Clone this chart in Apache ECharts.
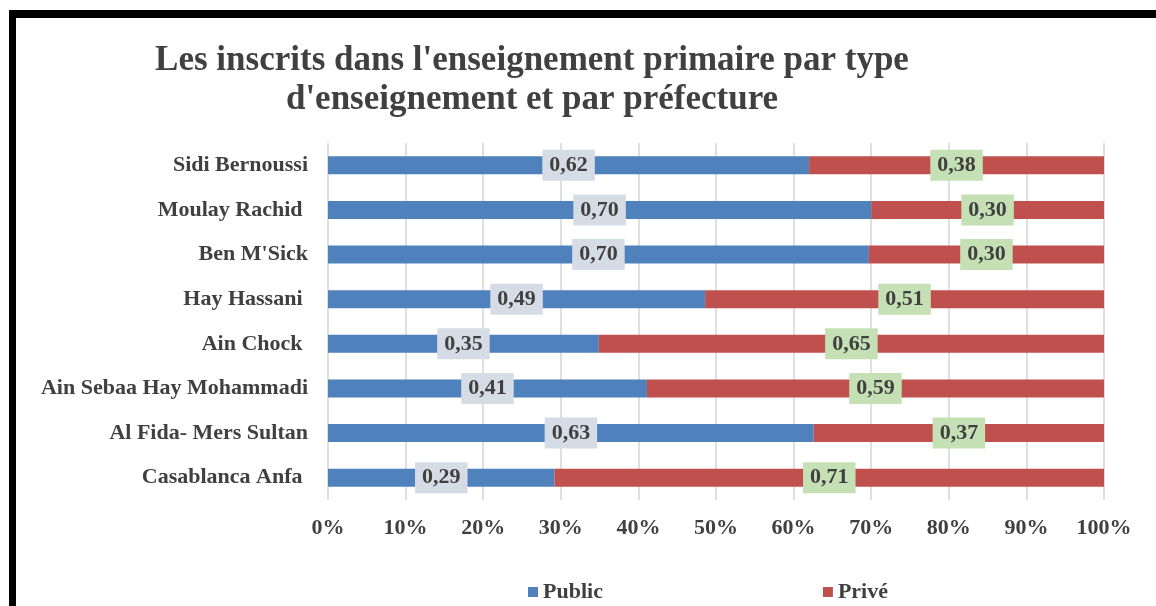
<!DOCTYPE html>
<html>
<head>
<meta charset="utf-8">
<script src="https://cdn.jsdelivr.net/npm/echarts@6/dist/echarts.min.js"></script>
<style>
  html, body { margin: 0; padding: 0; background: #fff; }
  #main { width: 1156px; height: 606px; }
</style>
</head>
<body>
<div id="main"></div>
<script>
var categories = ['Sidi Bernoussi', 'Moulay Rachid ', "Ben M'Sick", 'Hay Hassani ', 'Ain Chock ', 'Ain Sebaa Hay Mohammadi', 'Al Fida- Mers Sultan', 'Casablanca Anfa '];
var publicValues = [0.62, 0.70, 0.697, 0.486, 0.349, 0.411, 0.626, 0.292];
var priveValues = [0.38, 0.30, 0.303, 0.514, 0.651, 0.589, 0.374, 0.708];
var seriesNames = ['Public', 'Privé'];

var font = 'Liberation Serif';
var textColor = '#404040';

function fmt(p) {
    return p.value.toFixed(2).replace('.', ',');
}

var chart = echarts.init(document.getElementById('main'));
var option = {
    animation: false,
    title: {
        text: "Les inscrits dans l'enseignement primaire par type\nd'enseignement et par préfecture",
        left: 527,
        top: 36,
        textAlign: 'center',
        textStyle: {
            fontFamily: font,
            fontWeight: 'bold',
            fontSize: 35,
            lineHeight: 39,
            color: textColor
        }
    },
    graphic: [
        { type: 'rect', shape: { x: 9, y: 10, width: 1147, height: 8 }, style: { fill: '#000' } },
        { type: 'rect', shape: { x: 9, y: 10, width: 7, height: 596 }, style: { fill: '#000' } }
    ],
    legend: {
        left: 523,
        top: 576,
        itemWidth: 10,
        itemHeight: 10,
        itemGap: 220,
        icon: 'rect',
        textStyle: {
            fontFamily: font,
            fontWeight: 'bold',
            fontSize: 22,
            color: textColor
        },
        data: seriesNames
    },
    grid: {
        left: 328,
        right: 52,
        top: 143,
        bottom: 106
    },
    xAxis: {
        type: 'value',
        min: 0,
        max: 1,
        interval: 0.1,
        axisLine: { show: false },
        axisTick: { show: false },
        splitLine: { lineStyle: { color: '#d4d4d4', width: 1.5 } },
        axisLabel: {
            margin: 17,
            fontFamily: font,
            fontWeight: 'bold',
            fontSize: 22,
            color: textColor,
            formatter: function (v) { return Math.round(v * 100) + '%'; }
        }
    },
    yAxis: {
        type: 'category',
        inverse: true,
        data: categories,
        axisLine: { show: false },
        axisTick: { show: false },
        axisLabel: {
            margin: 20,
            fontFamily: font,
            fontWeight: 'bold',
            fontSize: 22,
            color: textColor
        }
    },
    series: [
        {
            name: seriesNames[0],
            type: 'bar',
            stack: 'total',
            barWidth: 18,
            itemStyle: { color: '#4f81bd' },
            label: {
                show: true,
                position: 'inside',
                formatter: fmt,
                fontFamily: font,
                fontWeight: 'bold',
                fontSize: 22,
                color: textColor,
                backgroundColor: '#d6dce5',
                padding: [6, 7, 3, 7]
            },
            data: publicValues
        },
        {
            name: seriesNames[1],
            type: 'bar',
            stack: 'total',
            barWidth: 18,
            itemStyle: { color: '#c0504d' },
            label: {
                show: true,
                position: 'inside',
                formatter: fmt,
                fontFamily: font,
                fontWeight: 'bold',
                fontSize: 22,
                color: textColor,
                backgroundColor: '#c5e0b4',
                padding: [6, 7, 3, 7]
            },
            data: priveValues
        }
    ]
};
chart.setOption(option);
</script>
</body>
</html>
